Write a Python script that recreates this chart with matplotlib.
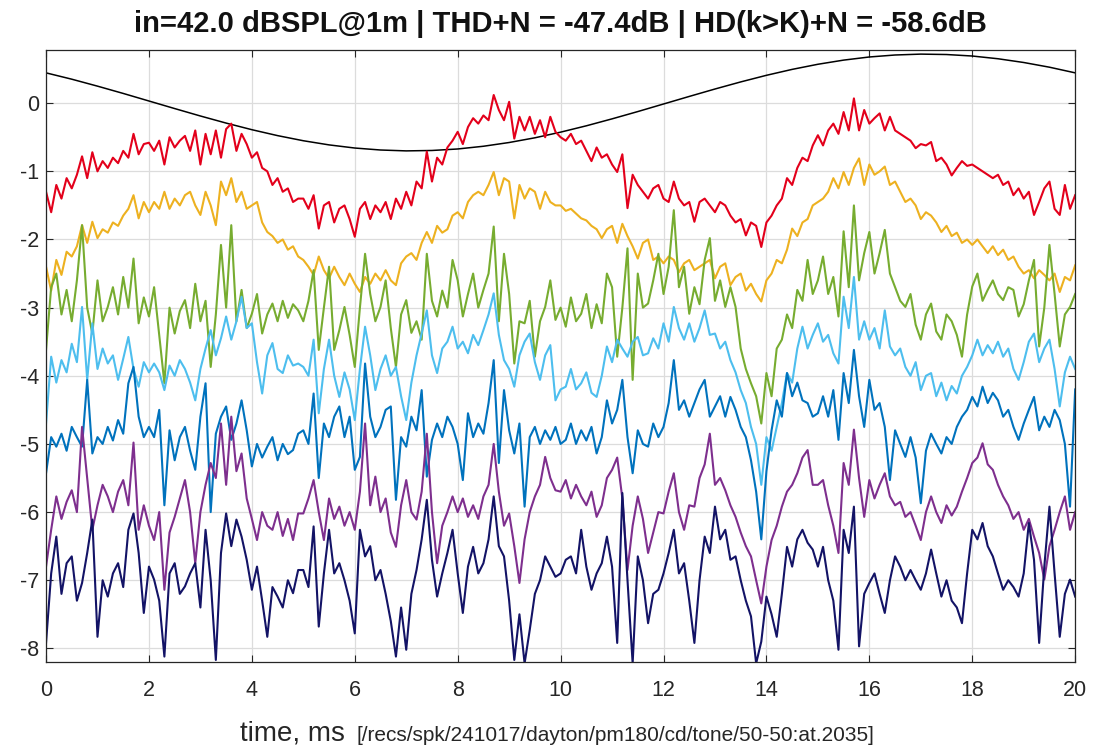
import numpy as np
import matplotlib
matplotlib.use("Agg")
import matplotlib.pyplot as plt

plt.rcParams['font.family'] = ['Liberation Sans', 'DejaVu Sans']
plt.rcParams['axes.unicode_minus'] = False

# time axis (ms): noisy traces sampled every 0.1 ms, reference sine every 0.5 ms
t = np.linspace(0, 20, 201)
t_ref = np.linspace(0, 20, 41)

ref = [0.445, 0.352, 0.250, 0.143, 0.032, -0.079, -0.188, -0.292, -0.389, -0.476,
       -0.551, -0.612, -0.658, -0.687, -0.700, -0.694, -0.672, -0.632, -0.577, -0.508,
       -0.425, -0.332, -0.230, -0.123, -0.012, 0.099, 0.208, 0.312, 0.409, 0.496,
       0.571, 0.632, 0.678, 0.707, 0.720, 0.714, 0.692, 0.652, 0.597, 0.528, 0.445]

red = [-1.30, -1.60, -1.20, -1.40, -1.10, -1.25, -1.05, -0.78, -1.10, -0.72,
       -1.00, -0.85, -0.95, -0.80, -0.88, -0.70, -0.80, -0.45, -0.75, -0.60,
       -0.58, -0.70, -0.55, -0.90, -0.50, -0.65, -0.55, -0.48, -0.70, -0.40,
       -0.90, -0.45, -0.75, -0.40, -0.80, -0.38, -0.30, -0.70, -0.45, -0.60,
       -0.80, -0.72, -0.95, -1.00, -1.20, -1.10, -1.30, -1.25, -1.45, -1.40,
       -1.40, -1.55, -1.35, -1.84, -1.50, -1.45, -1.75, -1.55, -1.50, -1.70,
       -1.96, -1.55, -1.45, -1.70, -1.50, -1.60, -1.45, -1.70, -1.40, -1.55,
       -1.30, -1.50, -1.15, -1.25, -0.71, -1.15, -0.80, -0.90, -0.65, -0.55,
       -0.42, -0.60, -0.35, -0.22, -0.30, -0.18, -0.25, 0.12, -0.10, -0.25,
       0.02, -0.52, -0.20, -0.40, -0.20, -0.45, -0.25, -0.50, -0.20, -0.42,
       -0.50, -0.55, -0.45, -0.60, -0.55, -0.70, -0.85, -0.65, -0.80, -0.75,
       -0.90, -1.01, -0.75, -1.54, -1.05, -1.20, -1.30, -1.40, -1.25, -1.20,
       -1.40, -1.45, -1.15, -1.40, -1.50, -1.45, -1.74, -1.45, -1.40, -1.50,
       -1.60, -1.45, -1.50, -1.65, -1.75, -1.70, -1.94, -1.75, -1.80, -2.11,
       -1.75, -1.65, -1.50, -1.40, -1.10, -1.20, -0.95, -0.80, -0.85, -0.62,
       -0.47, -0.62, -0.40, -0.30, -0.45, -0.13, -0.40, 0.07, -0.40, -0.10,
       -0.30, -0.22, -0.15, -0.40, -0.20, -0.40, -0.45, -0.50, -0.55, -0.66,
       -0.60, -0.62, -0.57, -0.85, -0.80, -0.90, -1.06, -0.95, -0.85, -0.92,
       -0.90, -0.95, -1.00, -1.05, -1.10, -1.05, -1.20, -1.15, -1.35, -1.25,
       -1.40, -1.30, -1.64, -1.45, -1.25, -1.15, -1.55, -1.64, -1.20, -1.55,
       -1.35]

orange = [-2.40, -2.75, -2.30, -2.52, -2.18, -2.25, -2.10, -1.79, -2.05, -1.74,
          -1.98, -1.85, -1.90, -1.75, -1.80, -1.65, -1.55, -1.35, -1.69, -1.45,
          -1.60, -1.45, -1.55, -1.30, -1.55, -1.40, -1.50, -1.35, -1.30, -1.50,
          -1.64, -1.30, -1.50, -1.79, -1.15, -1.35, -1.10, -1.45, -1.30, -1.55,
          -1.50, -1.45, -1.75, -1.89, -1.95, -2.05, -2.00, -2.15, -2.10, -2.25,
          -2.30, -2.40, -2.52, -2.25, -2.45, -2.57, -2.40, -2.55, -2.67, -2.50,
          -2.65, -2.77, -2.55, -2.65, -2.50, -2.60, -2.45, -2.60, -2.67, -2.35,
          -2.25, -2.20, -2.30, -2.05, -1.89, -2.05, -1.80, -1.90, -1.85, -1.65,
          -1.60, -1.69, -1.45, -1.35, -1.30, -1.35, -1.20, -1.01, -1.35, -1.10,
          -1.15, -1.69, -1.20, -1.40, -1.25, -1.30, -1.55, -1.30, -1.45, -1.50,
          -1.50, -1.58, -1.55, -1.62, -1.69, -1.72, -1.80, -1.85, -1.98, -1.85,
          -1.80, -2.05, -1.77, -1.95, -2.10, -2.28, -2.05, -2.00, -2.30, -2.25,
          -2.35, -2.25, -2.30, -2.48, -2.35, -2.30, -2.45, -2.40, -2.35, -2.30,
          -2.57, -2.40, -2.35, -2.67, -2.55, -2.50, -2.75, -2.65, -2.80, -2.91,
          -2.60, -2.50, -2.30, -2.35, -2.15, -1.84, -1.95, -1.75, -1.70, -1.50,
          -1.45, -1.40, -1.30, -1.10, -1.25, -1.01, -1.20, -0.95, -0.81, -1.20,
          -0.90, -1.05, -1.00, -0.93, -1.20, -1.15, -1.30, -1.45, -1.40, -1.50,
          -1.70, -1.60, -1.65, -1.75, -1.89, -1.80, -1.95, -1.90, -2.05, -2.00,
          -2.08, -2.00, -2.10, -2.20, -2.10, -2.23, -2.15, -2.30, -2.25, -2.40,
          -2.50, -2.45, -2.57, -2.45, -2.52, -2.60, -2.50, -2.77, -2.55, -2.60,
          -2.38]

green = [-3.62, -2.70, -2.50, -3.10, -2.74, -3.20, -2.60, -1.79, -3.00, -3.38,
         -2.60, -3.20, -2.99, -2.70, -3.10, -2.55, -3.00, -2.28, -3.23, -2.85,
         -3.13, -2.70, -3.40, -4.11, -3.00, -3.38, -3.05, -2.89, -3.30, -2.65,
         -3.20, -2.90, -3.87, -3.10, -2.08, -3.00, -1.79, -3.20, -2.74, -3.30,
         -3.09, -2.80, -3.38, -3.10, -2.94, -3.20, -2.90, -3.15, -2.95, -3.04,
         -3.20, -2.90, -2.45, -3.62, -3.00, -2.40, -3.62, -3.33, -2.99, -3.40,
         -3.87, -3.00, -2.21, -2.80, -3.20, -2.99, -2.60, -3.30, -3.87, -3.10,
         -2.89, -3.37, -3.20, -3.47, -2.21, -2.90, -3.13, -2.75, -3.00, -2.30,
         -2.60, -3.13, -2.80, -2.50, -3.00, -2.74, -2.50, -1.81, -3.20, -2.21,
         -2.80, -3.82, -3.20, -3.23, -2.90, -3.72, -3.20, -2.99, -2.60, -3.18,
         -3.00, -3.28, -2.85, -3.20, -3.09, -2.80, -3.30, -2.95, -3.23, -2.50,
         -2.70, -3.72, -3.00, -2.13, -4.06, -2.50, -3.00, -2.94, -2.60, -2.21,
         -2.80, -2.40, -1.57, -2.70, -2.40, -3.09, -2.70, -2.95, -2.30, -1.98,
         -2.90, -2.60, -2.99, -2.70, -2.99, -3.60, -3.90, -4.11, -4.30, -4.70,
         -3.96, -4.30, -3.60, -3.47, -3.10, -3.30, -2.74, -2.90, -2.30, -2.80,
         -2.60, -2.25, -2.80, -2.55, -3.13, -1.88, -2.70, -1.50, -2.60, -2.20,
         -1.89, -2.50, -2.20, -1.86, -2.50, -2.70, -2.90, -2.99, -2.80, -3.25,
         -3.47, -3.10, -2.94, -3.35, -3.47, -3.10, -3.20, -3.40, -3.72, -3.10,
         -2.69, -2.50, -2.90, -2.74, -2.60, -2.80, -2.89, -2.70, -2.74, -3.13,
         -2.95, -2.60, -2.30, -3.57, -3.00, -2.08, -2.80, -3.57, -3.10, -2.99,
         -2.80]

lightblue = [-4.70, -3.72, -4.10, -3.77, -3.95, -3.53, -3.80, -2.99, -4.06, -3.23,
             -3.90, -3.60, -3.82, -3.70, -4.06, -3.75, -3.43, -3.90, -4.16, -3.80,
             -3.95, -3.82, -3.95, -4.21, -3.85, -4.00, -3.77, -3.90, -4.10, -4.36,
             -3.90, -3.60, -3.33, -3.70, -3.45, -3.13, -3.47, -3.20, -2.84, -3.30,
             -3.23, -3.80, -4.26, -3.70, -3.52, -3.90, -3.96, -3.70, -3.85, -3.82,
             -3.87, -4.00, -3.47, -4.55, -3.90, -3.47, -4.00, -4.31, -3.95, -4.20,
             -4.65, -3.90, -3.28, -3.70, -4.21, -3.90, -3.70, -4.00, -3.87, -4.30,
             -4.65, -4.10, -3.70, -3.38, -3.04, -3.70, -3.96, -3.60, -3.50, -3.28,
             -3.60, -3.50, -3.67, -3.40, -3.55, -3.33, -3.10, -2.79, -3.40, -3.77,
             -3.90, -4.16, -3.70, -3.50, -3.38, -3.80, -4.06, -3.70, -3.55, -4.36,
             -4.20, -4.16, -3.90, -4.20, -4.11, -3.95, -4.25, -4.31, -4.00, -3.57,
             -3.80, -3.47, -3.60, -3.72, -3.50, -3.43, -3.70, -3.67, -3.45, -3.60,
             -3.23, -3.50, -2.99, -3.30, -3.47, -3.23, -3.50, -3.30, -3.04, -3.40,
             -3.38, -3.60, -3.50, -3.77, -3.95, -4.21, -4.40, -4.75, -5.00, -5.60,
             -4.90, -5.10, -4.75, -4.40, -3.96, -4.10, -3.60, -3.28, -3.60, -3.40,
             -3.23, -3.50, -3.40, -3.67, -3.82, -2.84, -3.30, -2.55, -3.47, -3.20,
             -3.47, -3.30, -3.60, -3.04, -3.57, -3.70, -3.60, -3.87, -4.00, -3.80,
             -4.21, -4.00, -3.96, -4.30, -4.10, -4.36, -4.15, -4.26, -4.00, -3.87,
             -3.70, -3.47, -3.70, -3.55, -3.67, -3.50, -3.72, -3.60, -3.90, -4.06,
             -3.80, -3.50, -3.38, -3.80, -3.60, -3.47, -3.90, -4.45, -3.95, -3.72,
             -3.90]

blue = [-5.43, -4.90, -5.04, -4.85, -5.10, -4.75, -4.90, -5.04, -4.06, -5.14,
        -4.90, -5.00, -4.75, -4.95, -4.65, -4.85, -4.11, -3.87, -4.60, -4.90,
        -4.75, -4.90, -4.50, -5.90, -4.80, -5.24, -4.90, -4.75, -5.10, -5.38,
        -4.60, -4.11, -6.00, -4.85, -4.60, -4.45, -4.94, -4.70, -4.36, -4.80,
        -5.33, -5.00, -5.20, -5.04, -4.90, -5.24, -5.00, -5.15, -5.09, -4.85,
        -4.80, -5.00, -4.26, -5.50, -4.70, -4.90, -4.60, -4.45, -4.90, -4.60,
        -5.38, -5.19, -3.82, -4.60, -4.90, -4.75, -4.50, -4.45, -5.82, -4.90,
        -5.04, -4.60, -4.80, -4.21, -5.48, -4.94, -4.70, -4.90, -4.60, -4.75,
        -5.00, -5.53, -4.55, -4.90, -4.70, -4.85, -4.40, -3.77, -5.28, -4.21,
        -4.80, -5.14, -4.70, -5.92, -4.90, -4.75, -5.00, -4.80, -4.94, -4.75,
        -5.00, -4.94, -4.70, -5.00, -4.80, -4.95, -4.75, -5.14, -4.90, -4.36,
        -4.70, -4.50, -4.06, -4.90, -5.43, -4.80, -5.00, -5.04, -4.70, -4.90,
        -4.75, -4.40, -3.77, -4.50, -4.36, -4.60, -4.40, -4.20, -4.06, -4.60,
        -4.45, -4.30, -4.60, -4.31, -4.50, -4.75, -4.90, -5.24, -5.70, -6.40,
        -5.40, -4.80, -4.36, -4.60, -3.96, -4.30, -4.10, -4.36, -4.40, -4.60,
        -4.55, -4.30, -4.60, -4.21, -4.94, -3.96, -4.40, -3.62, -4.30, -4.75,
        -4.06, -4.50, -4.40, -4.75, -5.53, -4.80, -5.00, -5.19, -4.90, -5.20,
        -5.87, -5.10, -4.85, -5.00, -5.14, -4.90, -5.00, -4.75, -4.60, -4.50,
        -4.31, -4.45, -4.16, -4.40, -4.25, -4.36, -4.60, -4.50, -4.75, -4.94,
        -4.70, -4.50, -4.31, -4.80, -4.60, -4.75, -4.50, -4.65, -5.00, -5.92,
        -4.20]

purple = [-6.80, -6.26, -5.77, -6.10, -5.85, -5.68, -6.00, -4.75, -5.50, -6.26,
          -5.90, -5.60, -5.77, -6.00, -5.70, -5.53, -5.90, -4.98, -6.26, -5.90,
          -6.20, -6.41, -6.00, -7.14, -6.30, -6.07, -5.80, -5.53, -6.00, -6.75,
          -6.00, -5.60, -5.28, -5.50, -4.70, -5.60, -4.60, -5.40, -5.14, -5.80,
          -6.10, -6.41, -6.00, -6.20, -6.26, -6.00, -6.35, -6.10, -6.41, -6.02,
          -6.02, -5.80, -5.53, -6.00, -6.41, -5.80, -6.10, -5.92, -6.20, -6.00,
          -6.26, -5.70, -4.70, -5.90, -5.48, -6.00, -5.80, -6.30, -6.51, -5.90,
          -5.53, -6.00, -6.11, -5.70, -4.85, -6.00, -6.75, -6.20, -6.00, -5.77,
          -6.00, -5.80, -6.07, -5.90, -6.10, -5.77, -5.60, -5.00, -5.70, -6.20,
          -6.02, -6.50, -7.04, -6.40, -6.00, -5.77, -5.60, -5.19, -5.50, -5.68,
          -5.70, -5.53, -5.80, -5.60, -5.77, -5.90, -5.70, -6.07, -5.90, -5.50,
          -5.38, -5.20, -5.80, -6.85, -6.20, -5.77, -6.10, -6.60, -6.30, -6.00,
          -6.02, -5.70, -5.43, -6.00, -6.26, -5.90, -5.92, -5.50, -5.30, -4.85,
          -5.60, -5.50, -5.68, -5.90, -6.07, -6.30, -6.50, -6.65, -7.00, -7.34,
          -6.80, -6.41, -6.20, -5.92, -5.70, -5.60, -5.43, -5.20, -5.09, -5.60,
          -5.60, -5.53, -5.90, -6.20, -6.60, -5.28, -5.60, -4.79, -5.50, -6.07,
          -5.53, -5.80, -5.60, -5.43, -5.77, -5.90, -5.85, -6.07, -6.00, -6.20,
          -6.41, -6.00, -5.77, -6.00, -6.16, -5.90, -6.05, -5.92, -5.70, -5.50,
          -5.28, -5.20, -4.99, -5.30, -5.38, -5.60, -5.77, -5.90, -6.10, -6.00,
          -6.26, -6.10, -6.36, -6.60, -6.99, -6.50, -6.26, -6.00, -5.77, -6.26,
          -6.00]

navy = [-7.92, -6.90, -6.36, -7.20, -6.75, -6.65, -7.30, -7.04, -6.60, -6.11,
        -7.83, -7.00, -7.24, -6.90, -6.75, -7.10, -6.26, -6.02, -6.60, -7.48,
        -6.80, -6.99, -7.30, -8.12, -6.90, -6.75, -7.20, -7.09, -6.90, -6.75,
        -7.40, -6.26, -7.00, -8.17, -6.60, -6.02, -6.50, -6.11, -6.36, -6.70,
        -7.14, -6.80, -7.30, -7.83, -7.10, -7.24, -7.40, -7.00, -7.19, -6.85,
        -6.85, -7.10, -6.21, -7.68, -6.90, -6.26, -6.90, -6.75, -7.00, -7.30,
        -7.78, -6.26, -6.65, -6.50, -7.00, -6.85, -7.20, -7.60, -8.12, -7.40,
        -8.02, -7.20, -6.85, -6.40, -5.82, -6.70, -7.24, -6.90, -6.60, -6.26,
        -6.90, -7.48, -6.80, -6.51, -6.90, -6.75, -6.40, -5.77, -6.50, -6.65,
        -7.30, -8.17, -7.50, -8.22, -7.73, -7.20, -7.00, -6.65, -6.80, -6.95,
        -6.90, -6.70, -6.65, -6.90, -6.26, -6.80, -7.14, -6.90, -6.75, -6.36,
        -6.80, -7.92, -5.72, -7.00, -8.22, -6.65, -7.00, -7.63, -7.20, -7.14,
        -6.90, -6.60, -6.26, -6.90, -6.75, -7.30, -7.92, -7.00, -6.36, -6.60,
        -5.92, -6.40, -6.26, -6.70, -6.65, -7.00, -7.30, -7.53, -8.22, -7.90,
        -7.24, -7.50, -7.83, -7.20, -6.51, -6.80, -6.40, -6.26, -6.45, -6.55,
        -6.80, -6.51, -7.00, -7.30, -8.02, -6.26, -6.60, -5.92, -7.97, -7.20,
        -7.04, -6.90, -7.20, -7.48, -7.00, -6.65, -6.80, -7.00, -6.85, -7.00,
        -7.14, -6.90, -6.55, -6.90, -7.24, -7.00, -7.30, -7.40, -7.63, -6.90,
        -6.26, -6.40, -6.16, -6.50, -6.65, -6.90, -7.14, -7.00, -7.10, -7.24,
        -6.90, -6.16, -6.70, -7.92, -6.80, -5.92, -6.90, -7.83, -7.20, -6.99,
        -7.24]

traces = [red, orange, green, lightblue, blue, purple, navy]
colors = ['#E3001B', '#EDB120', '#77AC30', '#4DBEEE', '#0072BD', '#7E2F8E', '#131366']

title = 'in=42.0 dBSPL@1m | THD+N = -47.4dB | HD(k>K)+N = -58.6dB'
xlab = 'time, ms'
xpath = '[/recs/spk/241017/dayton/pm180/cd/tone/50-50:at.2035]'

fig = plt.figure(figsize=(10.96, 7.5), dpi=100)
ax = fig.add_axes([0.042, 0.1173, 0.939, 0.816])

ax.plot(t_ref, ref, color='black', lw=1.1)
for y, c in zip(traces, colors):
    ax.plot(t, y, color=c, lw=1.5)

ax.set_xlim(0, 20)
ax.set_ylim(-8.2, 0.78)
ax.set_xticks(np.arange(0, 21, 2))
ax.set_yticks(np.arange(-8, 1, 1))
ax.grid(True, color='#dcdcdc', lw=0.9)
ax.set_axisbelow(True)
ax.tick_params(direction='in', top=True, right=True, labelsize=15.5, colors='#262626',
               length=5, width=0.8)
ax.tick_params(axis='x', pad=13)
ax.tick_params(axis='y', pad=5)
for s in ax.spines.values():
    s.set_color('#262626')
    s.set_linewidth(0.9)

ax.set_title(title, fontsize=21, fontweight='bold', color='#111111', pad=13)
fig.text(345 / 1096, 0.012, xlab, ha='right', va='baseline', fontsize=20, color='#262626')
fig.text(357 / 1096, 0.012, xpath, ha='left', va='baseline', fontsize=15, color='#262626')

fig.savefig('out.png', dpi=100)
